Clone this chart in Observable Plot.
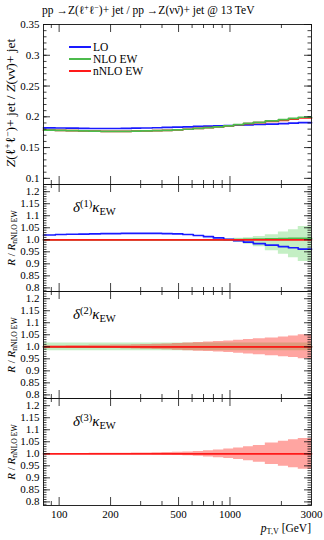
<!DOCTYPE html>
<html><head><meta charset="utf-8">
<script src="https://cdn.jsdelivr.net/npm/d3@7"></script>
<script src="https://cdn.jsdelivr.net/npm/@observablehq/plot@0.6"></script>
<style>
body{margin:0;background:#fff;}
#c{position:relative;width:324px;height:540px;font-family:"Liberation Serif","DejaVu Serif",serif;color:#000;overflow:hidden}
#c svg{position:absolute;left:0}
.abs{position:absolute;white-space:nowrap;line-height:1}
.rot{transform:translate(-50%,-50%) rotate(-90deg)}
.sup{font-size:70%;position:relative;top:-0.45em}
.sub{font-size:70%;position:relative;top:0.3em}
.it{font-style:italic}
.lg{position:absolute;left:69px;width:22px;height:0;border-top:2px solid}
.lt{position:absolute;white-space:nowrap;line-height:10px;height:10px}
</style></head><body><div id="c"></div>
<script>
// ---- data ----
const binEdges = [81,95,110,130,150,175,200,230,265,300,350,400,460,530,610,700,800,920,1050,1200,1370,1610,1920,2200,2510,3000];
// panel 1: cross-section ratio
const p1LO   = [0.1820,0.1818,0.1815,0.1812,0.1810,0.1810,0.1810,0.1812,0.1815,0.1818,0.1822,0.1827,0.1833,0.1838,0.1843,0.1848,0.1853,0.1858,0.1863,0.1869,0.1875,0.1882,0.1889,0.1896,0.1904];
const p1NLO  = [0.1784,0.1779,0.1774,0.1770,0.1766,0.1764,0.1764,0.1764,0.1767,0.1770,0.1774,0.1780,0.1788,0.1798,0.1811,0.1824,0.1838,0.1854,0.1873,0.1892,0.1911,0.1933,0.1953,0.1973,0.1993];
const p1nNLO = [0.1784,0.1779,0.1774,0.1770,0.1766,0.1764,0.1764,0.1764,0.1767,0.1770,0.1774,0.1780,0.1788,0.1798,0.1811,0.1824,0.1838,0.1854,0.1871,0.1888,0.1905,0.1925,0.1943,0.1961,0.1981];
// panel 2: delta(1) kappa_EW
const p2LO    = [1.020,1.022,1.023,1.024,1.025,1.026,1.026,1.027,1.027,1.027,1.027,1.026,1.025,1.022,1.018,1.013,1.008,1.002,0.996,0.990,0.984,0.978,0.972,0.967,0.961];
const p2NLO   = [1.000,1.000,1.000,1.000,1.000,1.000,1.000,1.000,1.000,1.000,1.000,1.000,1.000,1.000,1.000,1.000,1.000,1.000,1.001,1.002,1.003,1.004,1.005,1.006,1.006];
const p2NLOlo = [0.999,0.999,0.999,0.999,0.999,0.999,0.999,0.999,0.999,0.999,0.999,0.999,0.999,0.999,0.999,0.998,0.996,0.993,0.989,0.982,0.971,0.954,0.940,0.925,0.910];
const p2NLOhi = [1.001,1.001,1.001,1.001,1.001,1.001,1.001,1.001,1.001,1.001,1.001,1.001,1.001,1.001,1.001,1.002,1.003,1.004,1.006,1.009,1.014,1.021,1.032,1.042,1.055];
// panel 3: delta(2) kappa_EW (half widths of bands)
const p3NLOhw  = [0.016,0.016,0.016,0.016,0.016,0.016,0.016,0.016,0.016,0.016,0.016,0.016,0.016,0.016,0.016,0.016,0.016,0.016,0.016,0.016,0.016,0.016,0.016,0.016,0.016];
const p3nNLOhw = [0.004,0.004,0.005,0.005,0.006,0.006,0.007,0.008,0.009,0.010,0.011,0.012,0.014,0.016,0.018,0.020,0.022,0.024,0.027,0.030,0.033,0.037,0.041,0.045,0.050];
// panel 4: delta(3) kappa_EW
const p4nNLOhw = [0.001,0.001,0.001,0.001,0.002,0.002,0.002,0.002,0.003,0.003,0.004,0.005,0.006,0.008,0.010,0.013,0.016,0.020,0.024,0.029,0.035,0.045,0.052,0.058,0.064];
const ratioOne = [1,1,1,1,1,1,1,1,1,1,1,1,1,1,1,1,1,1,1,1,1,1,1,1,1];

const xTickValues = [100,200,500,1000,3000];
const xTickLabels = ["100","200","500","1000","3000"];
const xMajorTicks = [100,200,500,1000];
const xMinorTicks = [90,300,400,600,700,800,900,2000,3000];
const p1Ticks = [0.1,0.15,0.2,0.25,0.3,0.35];
const p1TickLabels = ["0.1","0.15","0.2","0.25","0.3","0.35"];
const rTicks = [0.8,0.85,0.9,0.95,1.0,1.05,1.1,1.15,1.2];
const rTickLabels = ["0.8","0.85","0.9","0.95","1.0","1.05","1.1","1.15","1.2"];

const BLUE="#1a1aff", GREEN="#4cbb4c", RED="#ff1a1a";
const GREENBAND="#c4efc4", REDBAND="rgba(255,40,30,0.42)";
const FONT='"Liberation Serif", "DejaVu Serif", serif';

// ---- helpers ----
const steps = vals => binEdges.map((x,i)=>({x, y: vals[Math.min(i, vals.length-1)]}));
const band = (lo, hi) => binEdges.map((x,i)=>{const j=Math.min(i, lo.length-1); return {x, y1: lo[j], y2: hi[j]};});
const bandHW = (c, hw) => binEdges.map((x,i)=>{const j=Math.min(i, hw.length-1); return {x, y1: c[j]-hw[j], y2: c[j]+hw[j]};});
const line = (vals, stroke) => Plot.line(steps(vals), {x:"x", y:"y", curve:"step-after", stroke, strokeWidth:1.7});
const area = (data, fill) => Plot.areaY(data, {x:"x", y1:"y1", y2:"y2", curve:"step-after", fill});

const W = 324, ML = 43, MR = 13, innerW = W-ML-MR;
function panel({height, mt, mb, yDomain, majors, minors, labels, marks, xAxis}) {
  const innerH = height-mt-mb;
  const tk = {stroke:"#111", strokeWidth:0.8};
  return Plot.plot({
    width:W, height, marginLeft:ML, marginRight:MR, marginTop:mt, marginBottom:mb,
    style:{fontFamily:FONT, fontSize:"11px", background:"transparent", overflow:"visible"},
    x:{type:"log", domain:[81,3000], axis:null},
    y:{domain:yDomain, axis:null},
    marks:[
      ...marks,
      Plot.tickX(xMajorTicks,{x:d=>d, insetBottom:innerH-8, ...tk}),
      Plot.tickX(xMajorTicks,{x:d=>d, insetTop:innerH-8, ...tk}),
      Plot.tickX(xMinorTicks,{x:d=>d, insetBottom:innerH-4, ...tk}),
      Plot.tickX(xMinorTicks,{x:d=>d, insetTop:innerH-4, ...tk}),
      Plot.tickY(majors,{y:d=>d, insetRight:innerW-7, ...tk}),
      Plot.tickY(majors,{y:d=>d, insetLeft:innerW-7, ...tk}),
      Plot.tickY(minors,{y:d=>d, insetRight:innerW-3.5, ...tk}),
      Plot.tickY(minors,{y:d=>d, insetLeft:innerW-3.5, ...tk}),
      Plot.frame({stroke:"#111", strokeWidth:0.9}),
      Plot.text(majors,{y:d=>d, frameAnchor:"left", dx:-4, textAnchor:"end", fontSize:11, fontFamily:FONT, text:(d,i)=>labels[i]}),
      xAxis ? Plot.text(xTickValues,{x:d=>d, frameAnchor:"bottom", dy:12, textAnchor:"middle", fontSize:11, fontFamily:FONT, text:(d,i)=>xTickLabels[i]}) : null
    ]
  });
}

const p1Minor = d3.range(9,36).map(v=>v/100);
const rMinor = d3.range(79,123).map(v=>v/100);

const c = document.getElementById("c");
const tops = [0,184,291,398];
const svgs = [
  panel({height:184, mt:24, mb:0, yDomain:[0.09,0.35], majors:p1Ticks, minors:p1Minor, labels:p1TickLabels,
    marks:[line(p1LO,BLUE), line(p1nNLO,RED), line(p1NLO,GREEN)]}),
  panel({height:107, mt:0, mb:0, yDomain:[0.785,1.23], majors:rTicks, minors:rMinor, labels:rTickLabels,
    marks:[area(band(p2NLOlo,p2NLOhi),GREENBAND), line(p2NLO,GREEN), line(p2LO,BLUE), line(ratioOne,RED)]}),
  panel({height:107, mt:0, mb:0, yDomain:[0.785,1.23], majors:rTicks, minors:rMinor, labels:rTickLabels,
    marks:[area(bandHW(ratioOne,p3NLOhw),GREENBAND), line(ratioOne,GREEN), area(bandHW(ratioOne,p3nNLOhw),REDBAND), line(ratioOne,RED)]}),
  panel({height:142, mt:0, mb:35, yDomain:[0.785,1.23], majors:rTicks, minors:rMinor, labels:rTickLabels, xAxis:true,
    marks:[area(bandHW(ratioOne,p4nNLOhw),REDBAND), line(ratioOne,RED)]})
];
svgs.forEach((s,i)=>{s.style.top=tops[i]+"px"; c.appendChild(s);});

// ---- texts ----
function addHTML(html, style, cls="abs"){const d=document.createElement("div"); d.className=cls; d.innerHTML=html; Object.assign(d.style, style); c.appendChild(d); return d;}
addHTML('pp →Z(ℓ<span class="sup">+</span>ℓ<span class="sup">−</span>)+ jet / pp →Z(νν̄)+ jet @ 13 TeV', {left:"42px", top:"5px", fontSize:"11.5px"});
addHTML('<span class="it">Z</span>(ℓ<span class="sup">+</span>ℓ<span class="sup">−</span>)+ jet / <span class="it">Z</span>(νν̄)+ jet', {left:"11px", top:"103px", fontSize:"13.5px"}, "abs rot");
[237.5,344.5,451.5].forEach(y=>addHTML('<span class="it">R</span> / <span class="it">R</span><span class="sub">nNLO EW</span>', {left:"11px", top:y+"px", fontSize:"11px"}, "abs rot"));
["1","2","3"].forEach((k,i)=>addHTML('<span class="it">δ</span><span class="sup">('+k+')</span><span class="it">κ</span><span class="sub">EW</span>', {left:"73px", top:(200+107*i)+"px", fontSize:"15px"}));
addHTML('<span class="it">p</span><span class="sub">T,V</span> [GeV]', {right:"13px", top:"523px", fontSize:"11.5px"});
// legend
const legend = [["LO",BLUE],["NLO EW",GREEN],["nNLO EW",RED]];
legend.forEach(([t,col],i)=>{
  const y = 46.5+12*i;
  const l=document.createElement("div"); l.className="lg"; l.style.top=(y-1)+"px"; l.style.borderColor=col; c.appendChild(l);
  addHTML(t,{left:"93px", top:(y-5)+"px", fontSize:"11.5px"}, "lt");
});
</script></body></html>
